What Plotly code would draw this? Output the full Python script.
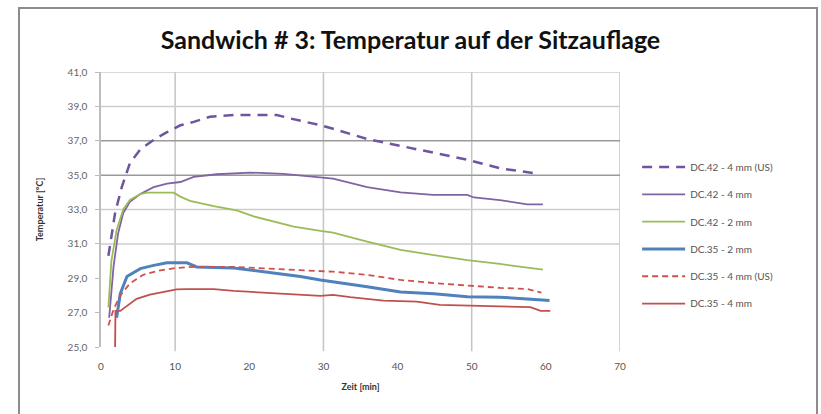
import plotly.graph_objects as go

# Measured seat-surface temperatures (time in minutes, temperature in °C)
t_dc42_4_us = [1.0, 1.9, 2.8, 3.9, 5.3, 7.1, 8.9, 10.7, 12.5, 14.7, 17.9, 23.7, 25.5, 27.8, 29.6,
               31.3, 35.9, 40.4, 44.9, 49.4, 53.8, 58.6]
T_dc42_4_us = [30.3, 32.8, 34.3, 35.7, 36.5, 37.05, 37.5, 37.9, 38.1, 38.4, 38.5, 38.5, 38.3, 38.1, 37.9,
               37.7, 37.1, 36.7, 36.3, 35.9, 35.4, 35.1]

t_dc42_4 = [1.1, 1.7, 2.3, 3.0, 3.9, 5.3, 7.1, 8.9, 10.7, 12.5, 15.6, 20.1, 24.6, 29.6,
            31.3, 35.9, 40.4, 44.8, 49.4, 50.3, 53.8, 57.5, 59.6]
T_dc42_4 = [26.7, 29.7, 31.6, 32.8, 33.45, 33.9, 34.3, 34.5, 34.6, 34.9, 35.05, 35.15, 35.07, 34.9,
            34.8, 34.3, 34.0, 33.85, 33.85, 33.7, 33.55, 33.3, 33.3]

t_dc42_2 = [1.0, 1.4, 2.1, 3.0, 3.9, 5.3, 6.2, 9.8, 10.7, 12.0, 15.2, 18.3, 20.6, 23.3, 26.0, 29.6,
            31.3, 35.9, 40.4, 44.9, 49.4, 53.8, 59.6]
T_dc42_2 = [27.3, 30.0, 31.8, 33.0, 33.55, 33.9, 33.98, 33.98, 33.75, 33.5, 33.2, 32.95, 32.6, 32.3, 32.0, 31.75,
            31.65, 31.13, 30.65, 30.35, 30.06, 29.83, 29.5]

t_dc35_2 = [2.1, 2.6, 3.5, 5.3, 7.1, 8.9, 11.6, 12.9, 17.9, 22.4, 26.9, 29.6,
            31.3, 35.9, 40.4, 44.9, 49.4, 53.8, 57.5, 60.5]
T_dc35_2 = [26.7, 28.1, 29.1, 29.56, 29.75, 29.9, 29.9, 29.66, 29.6, 29.37, 29.1, 28.9,
            28.8, 28.5, 28.2, 28.1, 27.93, 27.9, 27.8, 27.7]

t_dc35_4_us = [1.0, 1.7, 2.6, 3.9, 5.7, 8.0, 10.2, 12.5, 17.9, 22.4, 29.6,
               31.3, 35.9, 40.4, 44.9, 49.4, 53.8, 57.5, 59.4]
T_dc35_4_us = [26.25, 27.2, 28.0, 28.7, 29.2, 29.46, 29.6, 29.66, 29.66, 29.56, 29.4,
               29.38, 29.2, 28.9, 28.72, 28.57, 28.44, 28.38, 28.16]

t_dc35_4 = [1.9, 1.95, 2.6, 3.5, 4.8, 6.6, 8.4, 10.2, 11.6, 15.2, 17.9, 22.4, 26.0, 29.6,
            31.3, 33.6, 38.1, 42.6, 45.7, 49.4, 53.8, 57.9, 59.3, 60.6]
T_dc35_4 = [25.0, 27.1, 27.1, 27.4, 27.8, 28.05, 28.2, 28.35, 28.37, 28.37, 28.26, 28.16, 28.06, 27.98,
            28.03, 27.9, 27.7, 27.64, 27.45, 27.4, 27.35, 27.32, 27.1, 27.1]

series_names = ["DC.42 - 4 mm (US)", "DC.42 - 4 mm", "DC.42 - 2 mm",
                "DC.35 - 2 mm", "DC.35 - 4 mm (US)", "DC.35 - 4 mm"]

x_ticks = [0, 10, 20, 30, 40, 50, 60, 70]
y_ticks = [25, 27, 29, 31, 33, 35, 37, 39, 41]
grid_x = [10, 30, 50, 70]
grid_y = [31, 33, 35, 37, 39, 41]

series = [
    (t_dc42_4_us, T_dc42_4_us, "#6f55a0", 2.5, "10px,7px"),
    (t_dc42_4, T_dc42_4, "#8064a2", 1.8, "solid"),
    (t_dc42_2, T_dc42_2, "#9bbb59", 1.8, "solid"),
    (t_dc35_2, T_dc35_2, "#4f81bd", 3.0, "solid"),
    (t_dc35_4_us, T_dc35_4_us, "#d0504d", 1.8, "6px,4px"),
    (t_dc35_4, T_dc35_4, "#c0504d", 1.8, "solid"),
]

fig = go.Figure()
for name, (xs, ys, color, width, dash) in zip(series_names, series):
    fig.add_trace(go.Scatter(
        x=xs, y=ys, mode="lines", name=name, legendgroup=name,
        line=dict(color=color, width=width, dash=dash),
    ))

shapes = []
for gx in grid_x:
    shapes.append(dict(type="line", xref="x", yref="paper", x0=gx, x1=gx, y0=-0.015, y1=1,
                       line=dict(color="#c4c4c4", width=1.5), layer="below"))
for gy in grid_y:
    col = "#9a9a9a" if gy in (35, 37) else "#cdcdcd"
    shapes.append(dict(type="line", xref="x", yref="y", x0=0, x1=70, y0=gy, y1=gy,
                       line=dict(color=col, width=1.5), layer="below"))
# outer chart frame
shapes.append(dict(type="rect", xref="paper", yref="paper", x0=-0.158, x1=1.3796, y0=-0.35, y1=1.2327,
                   line=dict(color="#8c8c8c", width=2), fillcolor="rgba(0,0,0,0)", layer="below"))

fig.update_layout(
    width=821, height=414,
    margin=dict(l=101, r=201, t=72, b=67),
    paper_bgcolor="white", plot_bgcolor="white",
    separators=",.",
    font=dict(family="Lato, Arial, sans-serif", color="#404040"),
    title=dict(text="<b>Sandwich # 3: Temperatur auf der Sitzauflage</b>",
               x=0.5, xref="container", xanchor="center", y=0.903, yanchor="middle",
               font=dict(size=25, color="#111111", family="Lato, Arial, sans-serif")),
    xaxis=dict(range=[0, 70], tickvals=x_ticks, showgrid=False, zeroline=False,
               showline=False, ticks="", ticklabelstandoff=12,
               tickfont=dict(size=10, color="#555555"),
               title=dict(text="<b>Zeit [min]</b>", font=dict(size=9, color="#333333"), standoff=12)),
    yaxis=dict(range=[25, 41], tickvals=y_ticks, tickformat=".1f", showgrid=False, zeroline=False,
               showline=True, linecolor="#bdbdbd", linewidth=1.5, ticks="outside", ticklen=4,
               tickcolor="#bdbdbd", ticklabelstandoff=6,
               tickfont=dict(size=10, color="#666666"),
               title=dict(text="<b>Temperatur [°C]</b>", font=dict(size=9, color="#333333"), standoff=22)),
    shapes=shapes,
    showlegend=True,
    legend=dict(x=1.033, xanchor="left", y=0.707, yanchor="top", tracegroupgap=8.3, itemwidth=43,
                font=dict(size=10, color="#555555"), bgcolor="rgba(0,0,0,0)"),
)

fig.write_html("out.html")
